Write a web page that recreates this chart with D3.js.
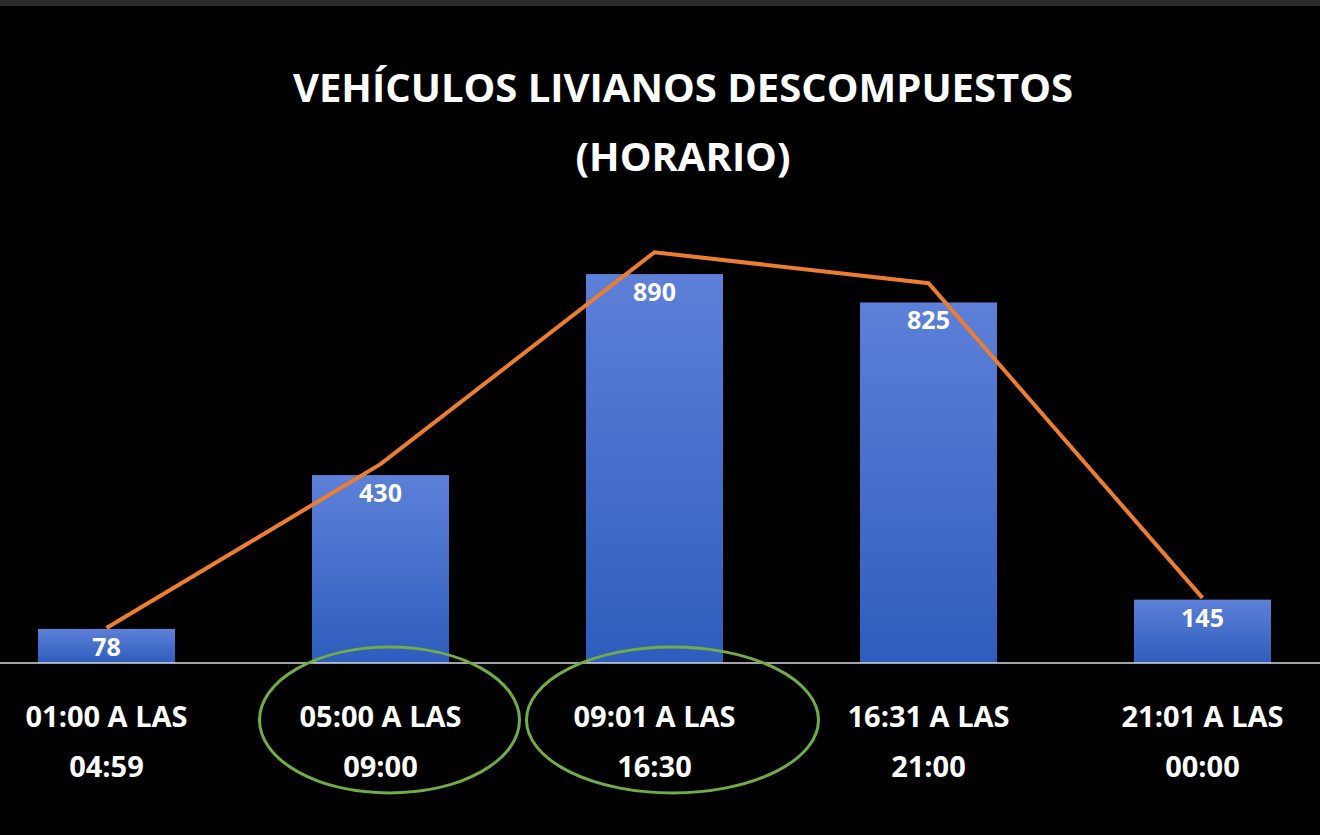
<!DOCTYPE html>
<html><head><meta charset="utf-8">
<script src="https://cdn.jsdelivr.net/npm/d3@7"></script>
<style>body{margin:0;background:#000}</style></head>
<body><svg id="c" width="1320" height="835"></svg>
<script>
const categories=[["01:00 A LAS","04:59"],["05:00 A LAS","09:00"],["09:01 A LAS","16:30"],["16:31 A LAS","21:00"],["21:01 A LAS","00:00"]];
const barValues=[78,430,890,825,145];
const lineValues=[80,455,940,869,149];
const circled=[1,2];
const titleLines=["VEHÍCULOS LIVIANOS DESCOMPUESTOS","(HORARIO)"];

const svg=d3.select("#c");
svg.append("rect").attr("width",1320).attr("height",835).attr("fill","#000");
svg.append("rect").attr("width",1320).attr("height",6).attr("fill","#2a2a2a");
const font="'Open Sans', sans-serif";
const x=d3.scaleBand().domain(d3.range(5)).range([38,1271]).paddingInner(0.5).paddingOuter(0);
const y=d3.scaleLinear().domain([0,1000]).range([663,226]);
const g=svg.append("defs").append("linearGradient").attr("id","bg").attr("x1",0).attr("x2",0).attr("y1",0).attr("y2",1);
g.append("stop").attr("offset",0).attr("stop-color","#5d80d8");
g.append("stop").attr("offset",1).attr("stop-color","#2e5dbd");
svg.selectAll(".t").data(titleLines).join("text").attr("x",683).attr("y",(d,i)=>102+i*69)
 .attr("text-anchor","middle").attr("fill","#fff").attr("font-family",font).attr("font-weight",700).attr("font-size",40).text(d=>d);
svg.selectAll(".bar").data(barValues).join("rect").attr("x",(d,i)=>x(i)).attr("width",x.bandwidth())
 .attr("y",d=>y(d)).attr("height",d=>y(0)-y(d)).attr("fill","url(#bg)");
svg.append("line").attr("x1",0).attr("x2",1320).attr("y1",y(0)).attr("y2",y(0)).attr("stroke","#d9d9d9").attr("stroke-width",1.5);
svg.append("path").datum(lineValues).attr("fill","none").attr("stroke","#ed7d31").attr("stroke-width",4)
 .attr("d",d3.line().x((d,i)=>x(i)+x.bandwidth()/2).y(d=>y(d)));
svg.selectAll(".v").data(barValues).join("text").attr("x",(d,i)=>x(i)+x.bandwidth()/2).attr("y",d=>y(d)+27)
 .attr("text-anchor","middle").attr("fill","#fff").attr("font-family",font).attr("font-weight",700).attr("font-size",25).text(d=>d);
categories.forEach((c,i)=>{
 c.forEach((l,j)=>svg.append("text").attr("x",x(i)+x.bandwidth()/2).attr("y",727+j*50).attr("text-anchor","middle")
  .attr("fill","#fff").attr("font-family",font).attr("font-weight",700).attr("font-size",29).text(l));
});
circled.forEach(i=>svg.append("ellipse").attr("cx",x(i)+x.bandwidth()/2+9+(i-1)*9).attr("cy",720).attr("rx",130+(i-1)*16).attr("ry",73)
 .attr("fill","none").attr("stroke","#70ad47").attr("stroke-width",3));
</script></body></html>
